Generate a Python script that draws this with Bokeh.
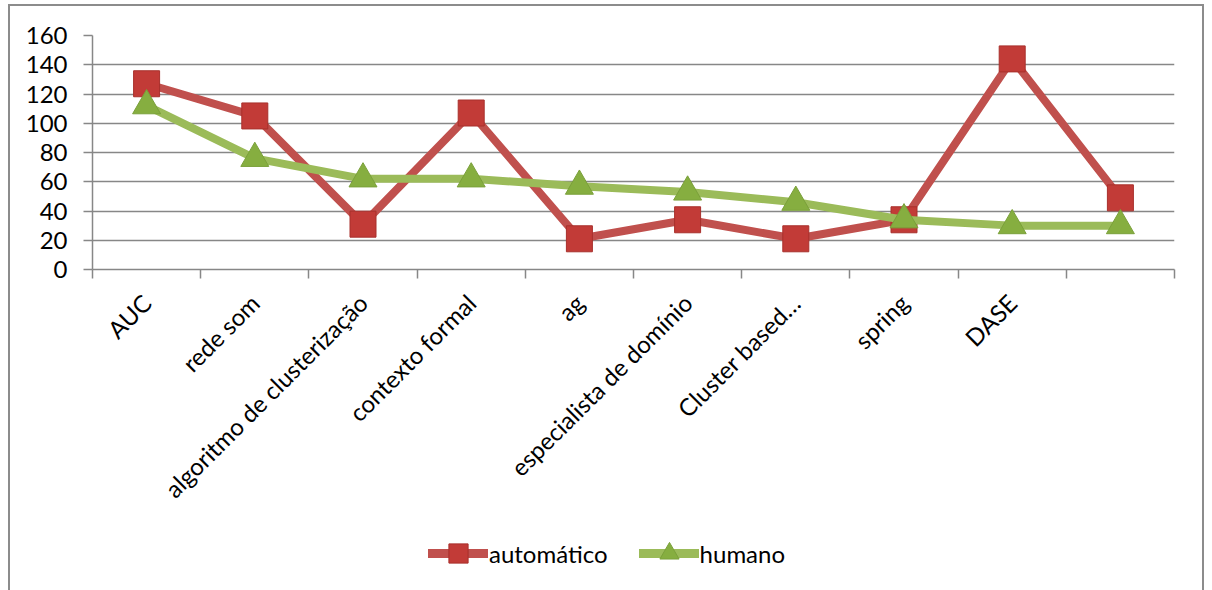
from bokeh.plotting import figure
from bokeh.layouts import column
from bokeh.models import Range1d, FixedTicker, Legend, LegendItem
from bokeh.embed import file_html
from bokeh.resources import INLINE

# categories along the x axis (last slot has no label)
categories = ["AUC", "rede som", "algoritmo de clusterização", "contexto formal",
              "ag", "especialista de domínio", "Cluster based…", "spring", "DASE", ""]
automatico = [127, 105, 31, 107, 21, 34, 21, 34, 144, 49]
humano = [112, 76, 62, 62, 57, 53, 46, 34, 30, 30]
y_ticks = [0, 20, 40, 60, 80, 100, 120, 140, 160]
series_names = ["automático", "humano"]

FONT = "Lato"
GRID = "#878787"
RED_LINE = "#C0504D"
RED_FILL = "#C23B37"
RED_EDGE = "#A8302C"
GREEN_LINE = "#9BBB59"
GREEN_FILL = "#86AE40"
GREEN_EDGE = "#7AA03A"
W = 1192

n = len(categories)
xs = [i + 0.5 for i in range(n)]

p = figure(width=W, height=520, output_backend="svg", toolbar_location=None,
           x_range=Range1d(0, n), y_range=Range1d(y_ticks[0], y_ticks[-1]),
           min_border_left=82, min_border_right=28, min_border_top=29, min_border_bottom=257)
p.outline_line_color = None
p.background_fill_color = "white"
p.border_fill_color = "white"

# y axis
p.yaxis.ticker = FixedTicker(ticks=y_ticks)
p.yaxis.axis_line_color = GRID
p.yaxis.axis_line_width = 1.5
p.yaxis.major_tick_line_color = GRID
p.yaxis.major_tick_line_width = 1.5
p.yaxis.major_tick_out = 9
p.yaxis.major_tick_in = 0
p.yaxis.minor_tick_line_color = None
p.yaxis.major_label_standoff = 16
p.yaxis.major_label_text_font = FONT
p.yaxis.major_label_text_font_size = "24px"
p.yaxis.major_label_text_color = "black"

# x axis: labels at category centres, tick marks on category boundaries
p.xaxis.ticker = FixedTicker(ticks=xs, minor_ticks=list(range(n + 1)))
p.xaxis.major_label_overrides = {x: c for x, c in zip(xs, categories)}
p.xaxis.major_label_orientation = 0.785398
p.xaxis.axis_line_color = GRID
p.xaxis.axis_line_width = 1.5
p.xaxis.major_tick_line_color = None
p.xaxis.major_tick_out = 0
p.xaxis.major_tick_in = 0
p.xaxis.minor_tick_line_color = GRID
p.xaxis.minor_tick_line_width = 1.5
p.xaxis.minor_tick_out = 9
p.xaxis.minor_tick_in = 0
p.xaxis.major_label_standoff = 20
p.xaxis.major_label_text_font = FONT
p.xaxis.major_label_text_font_size = "24px"
p.xaxis.major_label_text_color = "black"

p.xgrid.visible = False
p.ygrid.grid_line_color = GRID
p.ygrid.grid_line_width = 1.5

# series
line_kw = dict(line_width=8, line_join="round", line_cap="round")
red_mark = dict(marker="square", fill_color=RED_FILL, line_color=RED_EDGE, line_width=1)
green_mark = dict(marker="triangle", fill_color=GREEN_FILL, line_color=GREEN_EDGE, line_width=1)
p.line(xs, automatico, line_color=RED_LINE, **line_kw)
p.scatter(xs, automatico, size=26, **red_mark)
p.line(xs, humano, line_color=GREEN_LINE, **line_kw)
p.scatter(xs, humano, size=28, **green_mark)

# legend strip under the chart (hidden copies of the series supply the legend glyphs)
lg = figure(width=W, height=64, output_backend="svg", toolbar_location=None,
            x_axis_type=None, y_axis_type=None, min_border=0)
lg.outline_line_color = None
lg.grid.visible = False
lg.border_fill_color = "white"
legend_line_kw = dict(line_width=9, line_join="round", line_cap="round")
lr_line = lg.line(xs, automatico, line_color=RED_LINE, visible=False, **legend_line_kw)
lr_mark = lg.scatter(xs, automatico, visible=False, **red_mark)
lg_line = lg.line(xs, humano, line_color=GREEN_LINE, visible=False, **legend_line_kw)
lg_mark = lg.scatter(xs, humano, visible=False, **green_mark)

legend = Legend(items=[LegendItem(label=series_names[0], renderers=[lr_line, lr_mark]),
                       LegendItem(label=series_names[1], renderers=[lg_line, lg_mark])],
                location=(336, 13), orientation="horizontal",
                glyph_width=60, glyph_height=48, label_standoff=1, spacing=31,
                padding=0, margin=0, border_line_color=None,
                background_fill_alpha=0, inactive_fill_alpha=0,
                click_policy="none",
                label_text_font=FONT, label_text_font_size="24px",
                label_text_color="black")
lg.add_layout(legend, "center")

page = column(p, lg, spacing=0)
page.styles = {"margin-left": "8px", "margin-top": "4px",
               "border-left": "2px solid #8c8c8c", "border-top": "2px solid #8c8c8c",
               "border-right": "2px solid #8c8c8c"}

open("out.html", "w").write(file_html(page, INLINE))
